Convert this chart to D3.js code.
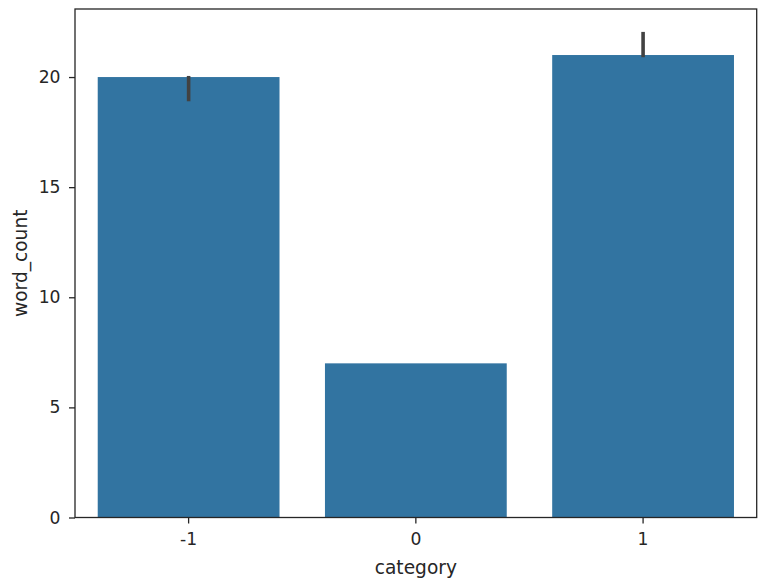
<!DOCTYPE html>
<html>
<head>
<meta charset="utf-8">
<script src="https://cdn.jsdelivr.net/npm/d3@7"></script>
<style>
  body { margin: 0; background: #fff; }
  text { font-family: "DejaVu Sans", sans-serif; fill: #262626; }
</style>
</head>
<body>
<div id="root"></div>
<script>
const categories = ['-1', '0', '1'];
const wordCount = [20, 7, 21];
const errLow = [18.9, 7, 20.9];
const errHigh = [20.05, 7, 22.05];
const yTicks = [0, 5, 10, 15, 20];

const dataset = categories.map((c, i) => ({
  category: c,
  value: wordCount[i],
  lo: errLow[i],
  hi: errHigh[i],
}));

const svgWidth = 763;
const svgHeight = 582;
const margin = { top: 9, right: 6.3, bottom: 64.5, left: 75 };
const chartWidth = svgWidth - margin.left - margin.right;
const chartHeight = svgHeight - margin.top - margin.bottom;
const tickFont = 17.2;
const labelFont = 18.6;

const svg = d3.select('#root').append('svg')
  .attr('width', svgWidth)
  .attr('height', svgHeight);

const chart = svg.append('g')
  .attr('transform', `translate(${margin.left}, ${margin.top})`);

const xScale = d3.scaleBand()
  .domain(categories)
  .range([0, chartWidth])
  .paddingInner(0.2)
  .paddingOuter(0.1);

const yScale = d3.scaleLinear()
  .domain([0, 23.09])
  .range([chartHeight, 0]);

chart.selectAll('rect.bar')
  .data(dataset)
  .enter()
  .append('rect')
  .attr('class', 'bar')
  .attr('x', d => xScale(d.category))
  .attr('y', d => yScale(d.value))
  .attr('width', xScale.bandwidth())
  .attr('height', d => yScale(0) - yScale(d.value))
  .attr('fill', '#3274a1');

chart.selectAll('line.err')
  .data(dataset.filter(d => d.hi > d.lo))
  .enter()
  .append('line')
  .attr('class', 'err')
  .attr('x1', d => xScale(d.category) + xScale.bandwidth() / 2)
  .attr('x2', d => xScale(d.category) + xScale.bandwidth() / 2)
  .attr('y1', d => yScale(d.lo))
  .attr('y2', d => yScale(d.hi))
  .attr('stroke', '#424242')
  .attr('stroke-width', 3.6);

const xAxis = d3.axisBottom(xScale)
  .tickSize(6)
  .tickPadding(9)
  .tickSizeOuter(0);

const yAxis = d3.axisLeft(yScale)
  .tickValues(yTicks)
  .tickSize(6)
  .tickPadding(8.5)
  .tickSizeOuter(0);

const gx = chart.append('g')
  .attr('transform', `translate(0, ${chartHeight})`)
  .call(xAxis);

const gy = chart.append('g')
  .call(yAxis);

[gx, gy].forEach(g => {
  g.select('.domain').remove();
  g.selectAll('.tick line').attr('stroke', '#262626').attr('stroke-width', 1.3);
  g.selectAll('.tick text')
    .attr('font-size', tickFont)
    .attr('font-family', 'DejaVu Sans')
    .attr('fill', '#262626');
});

chart.append('rect')
  .attr('x', 0)
  .attr('y', 0)
  .attr('width', chartWidth)
  .attr('height', chartHeight)
  .attr('fill', 'none')
  .attr('stroke', '#262626')
  .attr('stroke-width', 1.3);

svg.append('text')
  .attr('x', margin.left + chartWidth / 2)
  .attr('y', 573.5)
  .attr('text-anchor', 'middle')
  .attr('font-size', labelFont)
  .text('category');

svg.append('text')
  .attr('transform', `translate(26.5, ${margin.top + chartHeight / 2}) rotate(-90)`)
  .attr('text-anchor', 'middle')
  .attr('font-size', labelFont)
  .text('word_count');
</script>
</body>
</html>
